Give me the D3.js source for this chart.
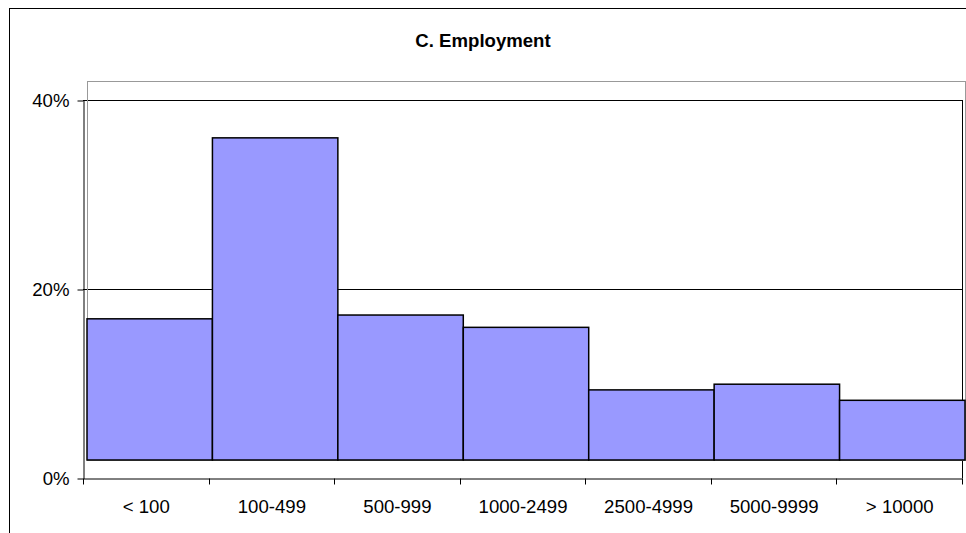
<!DOCTYPE html>
<html>
<head>
<meta charset="utf-8">
<script src="https://cdn.jsdelivr.net/npm/d3@7"></script>
<style>
  html, body { margin: 0; padding: 0; background: #fff; }
  svg { display: block; font-family: Arial, "Liberation Sans", sans-serif; }
</style>
</head>
<body>
<svg id="chart"></svg>
<script>
// data
const categories = ["< 100", "100-499", "500-999", "1000-2499", "2500-4999", "5000-9999", "> 10000"];
const shares = [14.9, 34.0, 15.3, 14.0, 7.4, 8.0, 6.3];
const yTicks = [0, 20, 40];
const title = "C. Employment";

const width = 966;
const height = 533;

const svg = d3.select("#chart")
    .attr("width", width)
    .attr("height", height);

// outer chart border (runs off the page on right/bottom)
svg.append("rect")
    .attr("x", 9.5)
    .attr("y", 8.5)
    .attr("width", 1000)
    .attr("height", 600)
    .attr("fill", "none")
    .attr("stroke", "#000");

svg.append("text")
    .attr("x", 483)
    .attr("y", 46.5)
    .attr("text-anchor", "middle")
    .attr("font-size", "18.6px")
    .attr("font-weight", "bold")
    .text(title);

// primary axes
const x = d3.scaleBand().domain(categories).range([83, 962]);
const y = d3.scaleLinear().domain([0, 40]).range([478, 100]);

// gridlines
svg.append("g")
    .selectAll("line")
    .data(yTicks.filter(d => d > 0))
    .enter()
    .append("line")
    .attr("x1", 83)
    .attr("x2", 962)
    .attr("y1", d => Math.round(y(d)) + 0.5)
    .attr("y2", d => Math.round(y(d)) + 0.5)
    .attr("stroke", "#000");

// right border of plot area
svg.append("line")
    .attr("x1", 962.5).attr("x2", 962.5)
    .attr("y1", y(40)).attr("y2", y(0))
    .attr("stroke", "#000");

const yAxis = svg.append("g")
    .attr("transform", "translate(83.5,0.5)")
    .call(d3.axisLeft(y).tickValues(yTicks).tickFormat(d => d + "%").tickSize(6).tickPadding(8).tickSizeOuter(0));

const xAxis = svg.append("g")
    .attr("transform", "translate(0.5," + (y(0) + 0.5) + ")")
    .call(d3.axisBottom(x).tickSize(0).tickPadding(21).tickSizeOuter(0));

// category boundary ticks
xAxis.selectAll(".bound")
    .data(d3.range(categories.length + 1))
    .enter()
    .append("line")
    .attr("class", "bound")
    .attr("x1", i => Math.round(83 + i * x.bandwidth()))
    .attr("x2", i => Math.round(83 + i * x.bandwidth()))
    .attr("y1", 0)
    .attr("y2", 6)
    .attr("stroke", "#000");

[yAxis, xAxis].forEach(g => {
    g.selectAll("text").attr("font-size", "18.6px").attr("fill", "#000").attr("font-family", null);
    g.select(".domain").attr("stroke", "#000");
    g.selectAll(".tick line").attr("stroke", "#000");
});
yAxis.selectAll("text").attr("dy", "0.34em");

// overlay plot with the bars
const bx = d3.scaleBand().domain(categories).range([87, 965]).padding(0);
const by = d3.scaleLinear().domain([0, 40]).range([460, 81]);

svg.append("rect")
    .attr("x", 87.5)
    .attr("y", 81.5)
    .attr("width", 965 - 87)
    .attr("height", 460 - 81)
    .attr("fill", "none")
    .attr("stroke", "#999");

svg.append("g")
    .selectAll("rect")
    .data(shares)
    .enter()
    .append("rect")
    .attr("x", (d, i) => bx(categories[i]))
    .attr("y", d => by(d))
    .attr("width", bx.bandwidth())
    .attr("height", d => by(0) - by(d))
    .attr("fill", "#9999ff")
    .attr("stroke", "#000")
    .attr("stroke-width", 1.5);
</script>
</body>
</html>
